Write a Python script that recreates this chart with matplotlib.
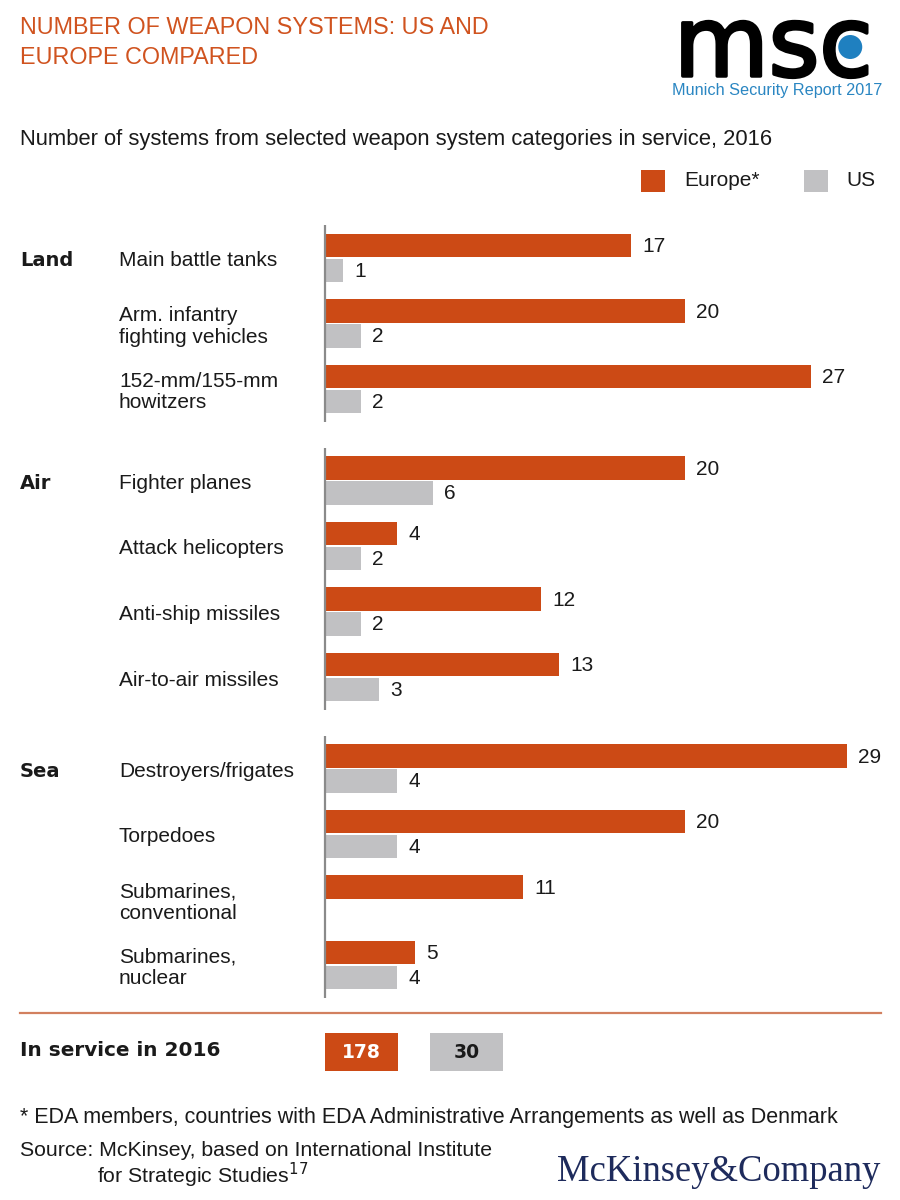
import matplotlib
matplotlib.use("Agg")
import matplotlib.pyplot as plt
from matplotlib.patches import Rectangle, Ellipse
from matplotlib.lines import Line2D
from matplotlib.transforms import blended_transform_factory
import matplotlib.patheffects as pe
import numpy as np

plt.rcParams['font.family'] = ['Liberation Sans', 'DejaVu Sans']

# ---------------- data ----------------
groups = ["Land", "Air", "Sea"]
group_sizes = [3, 4, 4]
categories = ["Main battle tanks", "Arm. infantry\nfighting vehicles", "152-mm/155-mm\nhowitzers",
              "Fighter planes", "Attack helicopters", "Anti-ship missiles", "Air-to-air missiles",
              "Destroyers/frigates", "Torpedoes", "Submarines,\nconventional", "Submarines,\nnuclear"]
europe = [17, 20, 27, 20, 4, 12, 13, 29, 20, 11, 5]
us = [1, 2, 2, 6, 2, 2, 3, 4, 4, None, 4]
series_names = ["Europe*", "US"]

title = "NUMBER OF WEAPON SYSTEMS: US AND\nEUROPE COMPARED"
subtitle = "Number of systems from selected weapon system categories in service, 2016"
total_label = "In service in 2016"
footnote = "* EDA members, countries with EDA Administrative Arrangements as well as Denmark"

ORANGE = "#CC4A15"
GRAY = "#C1C1C3"
TITLE_C = "#D0531F"
TEXT_C = "#1a1a1a"
FS = 15

W, H = 900, 1200
fig = plt.figure(figsize=(9, 12), dpi=100)
fig.patch.set_facecolor("white")

def fx(x):
    return x / W

def fy(y):
    return 1 - y / H

# ---------------- bar axes (y in pixel-like layout units) ----------------
ax_left, ax_right = 325, 865
ax_top, ax_bot = 200, 1010
ax = fig.add_axes([fx(ax_left), fy(ax_bot), (ax_right - ax_left) / W, (ax_bot - ax_top) / H])
ax.set_xlim(0, 30)
ax.set_ylim(ax_bot, ax_top)
ax.axis("off")

first_center, step, group_gap = 258, 65.5, 26
centers = []
group_bounds = []
c = first_center
for gi, n in enumerate(group_sizes):
    start = c
    for k in range(n):
        centers.append(c)
        if k < n - 1:
            c += step
    group_bounds.append((start, c))
    c += step + group_gap

bar_h = 23.5
off = 12.3
for i, cy in enumerate(centers):
    ax.barh(cy - off, europe[i], height=bar_h, color=ORANGE, linewidth=0)
    ax.annotate(str(europe[i]), (europe[i], cy - off + 1), xytext=(8, 0), textcoords="offset points",
                va="center", ha="left", fontsize=FS, color=TEXT_C)
    if us[i] is not None:
        ax.barh(cy + off, us[i], height=bar_h, color=GRAY, linewidth=0)
        ax.annotate(str(us[i]), (us[i], cy + off + 1), xytext=(8, 0), textcoords="offset points",
                    va="center", ha="left", fontsize=FS, color=TEXT_C)

for (s, e) in group_bounds:
    ax.vlines(0, s - 33, e + 33, color="#8a8a8a", linewidth=1.6, clip_on=False)

bt = blended_transform_factory(fig.transFigure, ax.transData)
for i, cy in enumerate(centers):
    ax.text(fx(119), cy + 3, categories[i], transform=bt, ha="left", va="center",
            fontsize=FS, color=TEXT_C, linespacing=1.15)
idx = 0
for gi, n in enumerate(group_sizes):
    ax.text(fx(20), centers[idx] + 3, groups[gi], transform=bt, ha="left", va="center",
            fontsize=14, fontweight="bold", fontfamily="DejaVu Sans", color=TEXT_C)
    idx += n

# ---------------- header ----------------
fig.text(fx(20), fy(16), title, ha="left", va="top", fontsize=16.8, color=TITLE_C, linespacing=1.4)
fig.text(fx(20), fy(140), subtitle, ha="left", va="center", fontsize=15.8, color=TEXT_C)

# msc logo
logo_kw = dict(ha="left", va="baseline", fontsize=70, color="black", fontfamily="DejaVu Sans")
logo = fig.text(fx(674), fy(76), "msc", **logo_kw)
logo.set_path_effects([pe.withStroke(linewidth=2.5, foreground="black")])
tmp = fig.text(fx(674), fy(76), "ms", alpha=0, **logo_kw)
renderer = fig.canvas.get_renderer()
e_all = logo.get_window_extent(renderer)
e_ms = tmp.get_window_extent(renderer)
tmp.remove()
cx_px = (e_ms.x1 + e_all.x1) / 2 + 4
cy_px = fig.transFigure.transform((0, fy(47)))[1]
r = 12
fig.patches.append(Ellipse((cx_px / W, cy_px / H), 2 * r / W, 2 * r / H, transform=fig.transFigure,
                           facecolor="#1F80C0", edgecolor="none"))
fig.text(fx(882), fy(90), "Munich Security Report 2017", ha="right", va="center",
         fontsize=11.7, color="#2A86C2")

# legend
fig.patches.append(Rectangle((fx(641), fy(192)), 24 / W, 22 / H, transform=fig.transFigure,
                             facecolor=ORANGE, edgecolor="none"))
fig.text(fx(684), fy(181), series_names[0], ha="left", va="center", fontsize=FS, color=TEXT_C)
fig.patches.append(Rectangle((fx(804), fy(192)), 24 / W, 22 / H, transform=fig.transFigure,
                             facecolor=GRAY, edgecolor="none"))
fig.text(fx(846), fy(181), series_names[1], ha="left", va="center", fontsize=FS, color=TEXT_C)

# ---------------- summary ----------------
fig.lines.append(Line2D([fx(20), fx(881)], [fy(1013), fy(1013)], transform=fig.transFigure,
                        color="#D2805F", linewidth=1.6))
fig.text(fx(20), fy(1051), total_label, ha="left", va="center", fontsize=14.4,
         fontweight="bold", fontfamily="DejaVu Sans", color=TEXT_C)
tot_eu = sum(europe)
tot_us = sum(v for v in us if v is not None)
fig.patches.append(Rectangle((fx(325), fy(1071)), 73 / W, 38 / H, transform=fig.transFigure,
                             facecolor=ORANGE, edgecolor="none"))
fig.text(fx(361.5), fy(1052), str(tot_eu), ha="center", va="center", fontsize=13.5,
         fontweight="bold", fontfamily="DejaVu Sans", color="white")
fig.patches.append(Rectangle((fx(430), fy(1071)), 73 / W, 38 / H, transform=fig.transFigure,
                             facecolor=GRAY, edgecolor="none"))
fig.text(fx(466.5), fy(1052), str(tot_us), ha="center", va="center", fontsize=13.5,
         fontweight="bold", fontfamily="DejaVu Sans", color=TEXT_C)

# ---------------- footer ----------------
fig.text(fx(20), fy(1117), footnote, ha="left", va="center", fontsize=15.5, color=TEXT_C)
fig.text(fx(20), fy(1151), "Source: McKinsey, based on International Institute", ha="left",
         va="center", fontsize=15.3, color=TEXT_C)
fig.text(fx(97), fy(1175), r"for Strategic Studies$^{17}$", ha="left", va="center",
         fontsize=15.3, color=TEXT_C)
fig.text(fx(880), fy(1172), "McKinsey&Company", ha="right", va="center", fontsize=26.4,
         fontfamily="Liberation Serif", color="#1E2B5C")

fig.savefig("out.png", dpi=100, facecolor="white")
